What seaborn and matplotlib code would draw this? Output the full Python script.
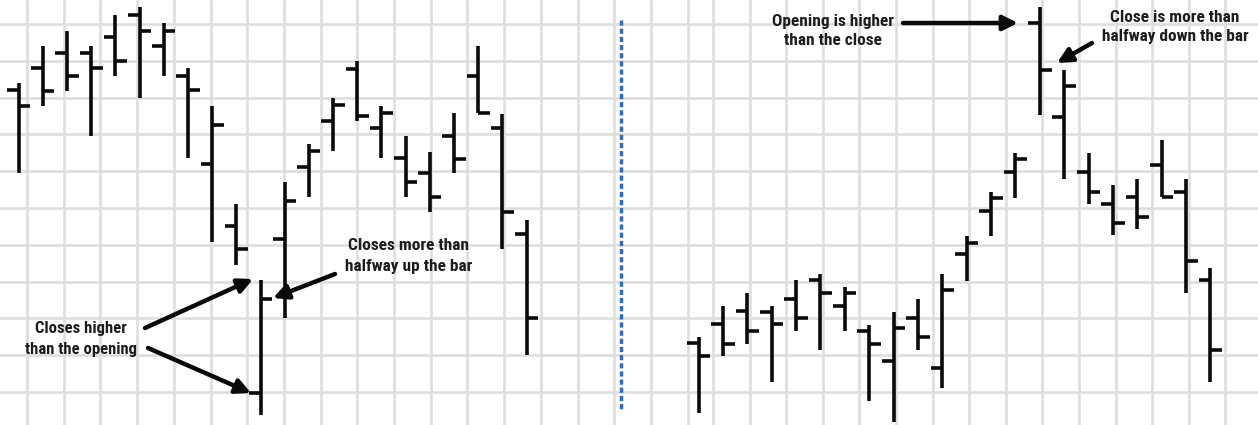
import numpy as np
import matplotlib
matplotlib.use("Agg")
import matplotlib.pyplot as plt
from matplotlib.lines import Line2D
import seaborn as sns

# --- Data (price units, one grid square = 10) ---
# Left chart: the bar that closes higher than it opens
left_open = [92.1, 98.0, 102.1, 102.1, 106.5, 112.4, 104.0, 95.9, 72.0, 55.1, 9.7,
             51.6, 71.1, 83.6, 97.8, 81.7, 73.6, 69.5, 79.6, 95.9, 81.7, 52.9]
left_high = [94.0, 104.0, 108.1, 104.0, 112.4, 114.6, 110.3, 98.0, 87.7, 61.1, 40.4,
             67.1, 77.4, 89.9, 99.9, 87.7, 79.6, 75.2, 85.8, 104.0, 85.5, 56.7]
left_low = [69.5, 87.7, 91.8, 79.6, 95.9, 89.9, 95.9, 73.6, 50.8, 44.5, 3.7,
            30.1, 63.0, 75.5, 83.6, 73.6, 63.0, 58.9, 69.5, 85.8, 48.9, 20.1]
left_close = [87.7, 91.8, 95.9, 98.0, 99.9, 108.1, 108.1, 92.1, 82.6, 48.9, 35.3,
              61.9, 75.5, 88.0, 85.0, 85.8, 67.1, 63.0, 73.3, 85.8, 58.9, 30.1]

# Right chart: the bar that opens higher than it closes
right_open = [23.3, 28.5, 32.0, 31.7, 35.3, 40.4, 33.4, 26.6, 18.4, 30.1, 16.5,
              47.5, 59.2, 69.8, 110.3, 84.7, 69.8, 61.1, 63.0, 71.7, 64.3, 40.4]
right_high = [24.9, 33.4, 36.9, 33.4, 40.4, 42.1, 38.5, 28.2, 31.7, 35.3, 42.1,
              52.4, 64.3, 74.9, 114.6, 97.5, 74.9, 66.3, 67.9, 78.5, 67.9, 43.7]
right_low = [4.3, 19.8, 23.0, 12.7, 26.6, 21.4, 26.6, 7.6, 1.8, 21.4, 11.1,
             40.2, 52.4, 62.7, 85.3, 67.9, 61.1, 52.7, 54.3, 63.0, 36.9, 12.7]
right_close = [19.8, 23.0, 26.6, 28.5, 30.1, 36.9, 36.9, 23.0, 27.4, 24.9, 37.7,
               50.5, 62.7, 73.3, 97.5, 93.2, 64.3, 55.9, 57.6, 63.0, 45.6, 21.4]

left_notes = ["Closes higher\nthan the opening", "Closes more than\nhalfway up the bar"]
right_notes = ["Opening is higher\nthan the close", "Close is more than\nhalfway down the bar"]

# --- Layout (pixels of the 1258x425 picture) ---
W, H = 1258, 425
SPLIT = 621
LEFT_X0, LEFT_STEP = 18.6, 24.19
RIGHT_X0, RIGHT_STEP = 698.5, 24.38
TICK = 0.48
BAR_COLOR = "#0a0a0a"
BAR_LW = 2.6
TEXT_COLOR = "#1c1c1c"
FONT = ["Liberation Sans Narrow", "Roboto Condensed", "PT Sans Narrow",
        "Fira Sans Condensed", "DejaVu Sans"]


def px_to_price(y):
    return 10 + (392 - y) / 3.68


sns.set_theme(style="whitegrid", rc={"grid.color": "#dedede", "grid.linewidth": 1.9})
plt.rcParams["font.family"] = FONT

fig = plt.figure(figsize=(W / 100, H / 100), dpi=100)
ax1 = fig.add_axes([0, 0, SPLIT / W, 1])
ax2 = fig.add_axes([SPLIT / W, 0, (W - SPLIT) / W, 1])


def draw_bars(ax, o, h, l, c):
    idx = np.arange(len(o))
    ax.vlines(idx, l, h, color=BAR_COLOR, lw=BAR_LW, zorder=3)
    ax.hlines(o, idx - TICK, idx, color=BAR_COLOR, lw=BAR_LW, zorder=3)
    ax.hlines(c, idx, idx + TICK, color=BAR_COLOR, lw=BAR_LW, zorder=3)


def setup(ax, x0, step, grid_px, left_px, right_px):
    ax.set_xlim((left_px - x0) / step, (right_px - x0) / step)
    ax.set_ylim(px_to_price(H), px_to_price(0))
    ax.set_xticks([(p - x0) / step for p in grid_px])
    ax.set_yticks(np.arange(10, 120, 10))
    ax.tick_params(length=0, labelbottom=False, labelleft=False)
    ax.set_facecolor("white")
    sns.despine(ax=ax, left=True, bottom=True)
    ax.set_axisbelow(True)


def note(ax, x0, step, text, px, ls, size=12.4):
    ax.text((px[0] - x0) / step, px_to_price(px[1]), text, ha="center", va="center",
            fontsize=size, fontweight="bold", color=TEXT_COLOR, linespacing=ls, zorder=4)


def arrow(ax, x0, step, tail, tip):
    ax.annotate("", xy=((tip[0] - x0) / step, px_to_price(tip[1])),
                xytext=((tail[0] - x0) / step, px_to_price(tail[1])),
                arrowprops=dict(arrowstyle="-|>", mutation_scale=22, lw=3.2,
                                color=BAR_COLOR, shrinkA=0, shrinkB=0), zorder=4)


left_grid = [27 + 36.7 * k for k in range(17)]
right_grid = [651, 688] + [713 + 36.6 * k for k in range(15)]

setup(ax1, LEFT_X0, LEFT_STEP, left_grid, 0, SPLIT)
setup(ax2, RIGHT_X0, RIGHT_STEP, right_grid, SPLIT, W)

draw_bars(ax1, left_open, left_high, left_low, left_close)
draw_bars(ax2, right_open, right_high, right_low, right_close)

# --- Callouts ---
note(ax1, LEFT_X0, LEFT_STEP, left_notes[0], (81, 339), 1.55, size=12.0)
arrow(ax1, LEFT_X0, LEFT_STEP, (145, 328), (253, 279))
arrow(ax1, LEFT_X0, LEFT_STEP, (148, 348), (251, 393))
note(ax1, LEFT_X0, LEFT_STEP, left_notes[1], (409, 256), 1.5)
arrow(ax1, LEFT_X0, LEFT_STEP, (335, 274), (273, 298))

note(ax2, RIGHT_X0, RIGHT_STEP, right_notes[0], (833, 31), 1.3)
arrow(ax2, RIGHT_X0, RIGHT_STEP, (903, 23), (1018, 23))
note(ax2, RIGHT_X0, RIGHT_STEP, right_notes[1], (1175, 27), 1.35)
arrow(ax2, RIGHT_X0, RIGHT_STEP, (1092, 43), (1057, 63))

# dotted blue divider between the two charts
fig.add_artist(Line2D([SPLIT / W, SPLIT / W], [1 - 20 / H, 1 - 410 / H],
                      transform=fig.transFigure, color="#2f6cc0", lw=2.5,
                      linestyle=(0, (1.5, 0.85))))

fig.savefig("out.png", dpi=100)
